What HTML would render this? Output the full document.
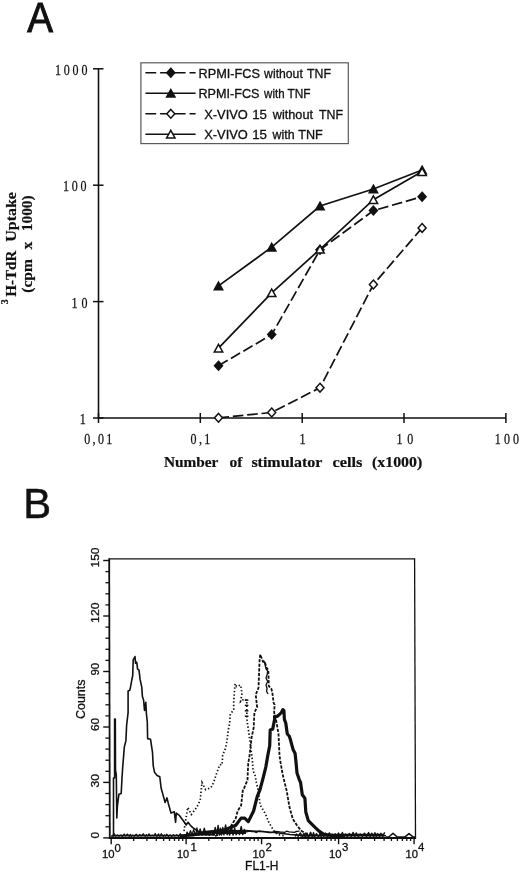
<!DOCTYPE html>
<html><head><meta charset="utf-8"><style>
html,body{margin:0;padding:0;background:#fff;width:520px;height:872px;overflow:hidden}
svg{display:block;will-change:transform}
.sans{font-family:"Liberation Sans",sans-serif;fill:#111;stroke:#111;stroke-width:0.3px}
.ser{font-family:"Liberation Serif",serif;fill:#111;stroke:#111;stroke-width:0.25px}
.serb{font-family:"Liberation Serif",serif;font-weight:bold;fill:#111;stroke:#111;stroke-width:0.2px}
</style></head><body>
<svg width="520" height="872" viewBox="0 0 520 872">
<rect width="520" height="872" fill="#fff"/>
<path d="M98.5 68.8 V418.0 H505.9" fill="none" stroke="#111" stroke-width="1.6"/>
<path d="M93.0 418.0 H103.5" stroke="#111" stroke-width="1.5"/>
<path d="M93.0 301.6 H103.5" stroke="#111" stroke-width="1.5"/>
<path d="M93.0 185.2 H103.5" stroke="#111" stroke-width="1.5"/>
<path d="M93.0 68.8 H103.5" stroke="#111" stroke-width="1.5"/>
<path d="M98.5 413.0 V423.0" stroke="#111" stroke-width="1.5"/>
<path d="M200.3 413.0 V423.0" stroke="#111" stroke-width="1.5"/>
<path d="M302.2 413.0 V423.0" stroke="#111" stroke-width="1.5"/>
<path d="M404.0 413.0 V423.0" stroke="#111" stroke-width="1.5"/>
<path d="M505.9 413.0 V423.0" stroke="#111" stroke-width="1.5"/>
<path d="M218.5 365.7 L271.7 334.6 L320.0 249.8 L373.4 210.6 L422.1 196.7" fill="none" stroke="#111" stroke-width="1.7" stroke-dasharray="10.6 3.8"/>
<path d="M218.5 417.8 L271.7 412.5 L320.0 387.7 L373.4 284.5 L422.1 227.9" fill="none" stroke="#111" stroke-width="1.7" stroke-dasharray="10.6 3.8"/>
<path d="M218.5 285.9 L271.7 247.2 L320.0 206.0 L373.4 189.0 L422.1 170.0" fill="none" stroke="#111" stroke-width="1.7"/>
<path d="M218.5 348.2 L271.7 292.8 L320.0 249.3 L373.4 199.7 L422.1 171.6" fill="none" stroke="#111" stroke-width="1.7"/>
<path d="M218.5 361.3 L222.5 365.7 L218.5 370.1 L214.5 365.7Z" fill="#111" stroke="#111" stroke-width="1.5" stroke-linejoin="miter"/>
<path d="M271.7 330.2 L275.7 334.6 L271.7 339.0 L267.7 334.6Z" fill="#111" stroke="#111" stroke-width="1.5" stroke-linejoin="miter"/>
<path d="M320.0 245.4 L324.0 249.8 L320.0 254.2 L316.0 249.8Z" fill="#111" stroke="#111" stroke-width="1.5" stroke-linejoin="miter"/>
<path d="M373.4 206.2 L377.4 210.6 L373.4 215.0 L369.4 210.6Z" fill="#111" stroke="#111" stroke-width="1.5" stroke-linejoin="miter"/>
<path d="M422.1 192.3 L426.1 196.7 L422.1 201.1 L418.1 196.7Z" fill="#111" stroke="#111" stroke-width="1.5" stroke-linejoin="miter"/>
<path d="M218.5 282.1 L222.7 289.7 L214.3 289.7Z" fill="#111" stroke="#111" stroke-width="1.5" stroke-linejoin="miter"/>
<path d="M271.7 243.4 L275.9 251.0 L267.5 251.0Z" fill="#111" stroke="#111" stroke-width="1.5" stroke-linejoin="miter"/>
<path d="M320.0 202.2 L324.2 209.8 L315.8 209.8Z" fill="#111" stroke="#111" stroke-width="1.5" stroke-linejoin="miter"/>
<path d="M373.4 185.2 L377.6 192.8 L369.2 192.8Z" fill="#111" stroke="#111" stroke-width="1.5" stroke-linejoin="miter"/>
<path d="M422.1 166.2 L426.3 173.8 L417.9 173.8Z" fill="#111" stroke="#111" stroke-width="1.5" stroke-linejoin="miter"/>
<path d="M218.5 413.4 L222.5 417.8 L218.5 422.2 L214.5 417.8Z" fill="#fff" stroke="#111" stroke-width="1.5" stroke-linejoin="miter"/>
<path d="M271.7 408.1 L275.7 412.5 L271.7 416.9 L267.7 412.5Z" fill="#fff" stroke="#111" stroke-width="1.5" stroke-linejoin="miter"/>
<path d="M320.0 383.3 L324.0 387.7 L320.0 392.1 L316.0 387.7Z" fill="#fff" stroke="#111" stroke-width="1.5" stroke-linejoin="miter"/>
<path d="M373.4 280.1 L377.4 284.5 L373.4 288.9 L369.4 284.5Z" fill="#fff" stroke="#111" stroke-width="1.5" stroke-linejoin="miter"/>
<path d="M422.1 223.5 L426.1 227.9 L422.1 232.3 L418.1 227.9Z" fill="#fff" stroke="#111" stroke-width="1.5" stroke-linejoin="miter"/>
<path d="M218.5 344.4 L222.7 352.0 L214.3 352.0Z" fill="#fff" stroke="#111" stroke-width="1.5" stroke-linejoin="miter"/>
<path d="M271.7 289.0 L275.9 296.6 L267.5 296.6Z" fill="#fff" stroke="#111" stroke-width="1.5" stroke-linejoin="miter"/>
<path d="M320.0 245.5 L324.2 253.1 L315.8 253.1Z" fill="#fff" stroke="#111" stroke-width="1.5" stroke-linejoin="miter"/>
<path d="M373.4 195.9 L377.6 203.5 L369.2 203.5Z" fill="#fff" stroke="#111" stroke-width="1.5" stroke-linejoin="miter"/>
<path d="M422.1 167.8 L426.3 175.4 L417.9 175.4Z" fill="#fff" stroke="#111" stroke-width="1.5" stroke-linejoin="miter"/>
<rect x="140.9" y="62.8" width="207.4" height="80.8" fill="#fff" stroke="#5a5a5a" stroke-width="1.2"/>
<path d="M145.4 72.7 H195.6" stroke="#111" stroke-width="1.5" stroke-dasharray="10.8 3.9"/>
<path d="M170.8 68.3 L174.8 72.7 L170.8 77.1 L166.8 72.7Z" fill="#111" stroke="#111" stroke-width="1.5" stroke-linejoin="miter"/>
<path d="M145.4 93.3 H195.6" stroke="#111" stroke-width="1.5"/>
<path d="M170.8 89.5 L175.0 97.1 L166.6 97.1Z" fill="#111" stroke="#111" stroke-width="1.5" stroke-linejoin="miter"/>
<path d="M145.4 113.8 H195.6" stroke="#111" stroke-width="1.5" stroke-dasharray="10.8 3.9"/>
<path d="M170.8 109.4 L174.8 113.8 L170.8 118.2 L166.8 113.8Z" fill="#fff" stroke="#111" stroke-width="1.5" stroke-linejoin="miter"/>
<path d="M145.4 134.2 H195.6" stroke="#111" stroke-width="1.5"/>
<path d="M170.8 130.4 L175.0 138.0 L166.6 138.0Z" fill="#fff" stroke="#111" stroke-width="1.5" stroke-linejoin="miter"/>
<text x="27.32" y="32.2" class="sans" font-size="43" textLength="25.76" lengthAdjust="spacingAndGlyphs" style="stroke-width:1.0px">A</text>
<text x="23.20" y="518.4" class="sans" font-size="42.5" textLength="27.90" lengthAdjust="spacingAndGlyphs" style="stroke-width:0.5px">B</text>
<text transform="scale(0.86,1)" x="63.84" y="74.8" class="ser" font-size="14.0" textLength="37.91" lengthAdjust="spacing">1000</text>
<text transform="scale(0.86,1)" x="73.26" y="191.1" class="ser" font-size="14.0" textLength="27.33" lengthAdjust="spacing">100</text>
<text transform="scale(0.86,1)" x="83.14" y="307.6" class="ser" font-size="14.0" textLength="18.49" lengthAdjust="spacing">10</text>
<text transform="scale(0.86,1)" x="92.67" y="424.2" class="ser" font-size="14.0">1</text>
<text transform="scale(0.86,1)" x="98.02" y="444.5" class="ser" font-size="14.0" textLength="32.56" lengthAdjust="spacing">0,01</text>
<text transform="scale(0.86,1)" x="221.63" y="444.2" class="ser" font-size="14.0" textLength="22.79" lengthAdjust="spacing">0,1</text>
<text transform="scale(0.86,1)" x="348.26" y="444.2" class="ser" font-size="14.0">1</text>
<text transform="scale(0.86,1)" x="461.05" y="444.2" class="ser" font-size="14.0" textLength="19.53" lengthAdjust="spacing">10</text>
<text transform="scale(0.86,1)" x="575.35" y="444.2" class="ser" font-size="14.0" textLength="28.26" lengthAdjust="spacing">100</text>
<text x="163.90" y="466.6" class="serb" font-size="14.0" textLength="54.50" lengthAdjust="spacingAndGlyphs">Number</text>
<text x="229.50" y="466.6" class="serb" font-size="14.0" textLength="12.90" lengthAdjust="spacingAndGlyphs">of</text>
<text x="251.40" y="466.6" class="serb" font-size="14.0" textLength="71.00" lengthAdjust="spacingAndGlyphs">stimulator</text>
<text x="332.50" y="466.6" class="serb" font-size="14.0" textLength="29.90" lengthAdjust="spacingAndGlyphs">cells</text>
<text x="372.00" y="466.6" class="serb" font-size="14.0" textLength="50.20" lengthAdjust="spacingAndGlyphs">(x1000)</text>
<text transform="translate(16.1,0) rotate(-90)" x="-296.70" y="0" class="serb" font-size="14.6" textLength="46.00" lengthAdjust="spacingAndGlyphs">H-TdR</text>
<text transform="translate(16.1,0) rotate(-90)" x="-241.70" y="0" class="serb" font-size="14.6" textLength="49.60" lengthAdjust="spacingAndGlyphs">Uptake</text>
<text transform="translate(32.3,0) rotate(-90)" x="-292.70" y="0" class="serb" font-size="14.6" textLength="33.50" lengthAdjust="spacingAndGlyphs">(cpm</text>
<text transform="translate(32.3,0) rotate(-90)" x="-249.40" y="0" class="serb" font-size="14.6" textLength="7.90" lengthAdjust="spacingAndGlyphs">x</text>
<text transform="translate(32.3,0) rotate(-90)" x="-231.30" y="0" class="serb" font-size="14.6" textLength="36.00" lengthAdjust="spacingAndGlyphs">1000)</text>
<text transform="translate(7.9,0) rotate(-90)" x="-304.16" y="0" class="serb" font-size="9.8">3</text>
<text x="198.50" y="78.2" class="sans" font-size="12.2" textLength="61.50" lengthAdjust="spacingAndGlyphs">RPMI-FCS</text>
<text x="264.10" y="78.2" class="sans" font-size="12.2" textLength="38.70" lengthAdjust="spacingAndGlyphs">without</text>
<text x="307.00" y="78.2" class="sans" font-size="12.2" textLength="23.90" lengthAdjust="spacingAndGlyphs">TNF</text>
<text x="198.50" y="98.4" class="sans" font-size="12.2" textLength="61.00" lengthAdjust="spacingAndGlyphs">RPMI-FCS</text>
<text x="264.10" y="98.4" class="sans" font-size="12.2" textLength="20.50" lengthAdjust="spacingAndGlyphs">with</text>
<text x="287.50" y="98.4" class="sans" font-size="12.2" textLength="23.10" lengthAdjust="spacingAndGlyphs">TNF</text>
<text x="204.20" y="119.3" class="sans" font-size="12.2" textLength="43.60" lengthAdjust="spacingAndGlyphs">X-VIVO</text>
<text x="252.20" y="119.3" class="sans" font-size="12.2" textLength="14.80" lengthAdjust="spacingAndGlyphs">15</text>
<text x="272.80" y="119.3" class="sans" font-size="12.2" textLength="40.20" lengthAdjust="spacingAndGlyphs">without</text>
<text x="319.00" y="119.3" class="sans" font-size="12.2" textLength="24.00" lengthAdjust="spacingAndGlyphs">TNF</text>
<text x="204.20" y="139.2" class="sans" font-size="12.2" textLength="43.60" lengthAdjust="spacingAndGlyphs">X-VIVO</text>
<text x="252.20" y="139.2" class="sans" font-size="12.2" textLength="14.80" lengthAdjust="spacingAndGlyphs">15</text>
<text x="272.50" y="139.2" class="sans" font-size="12.2" textLength="22.10" lengthAdjust="spacingAndGlyphs">with</text>
<text x="298.20" y="139.2" class="sans" font-size="12.2" textLength="24.50" lengthAdjust="spacingAndGlyphs">TNF</text>
<text transform="translate(98.9,0) rotate(-90)" x="-567.50" y="0" class="sans" font-size="11.8" textLength="20.04" lengthAdjust="spacingAndGlyphs">150</text>
<text transform="translate(98.9,0) rotate(-90)" x="-622.92" y="0" class="sans" font-size="11.8" textLength="20.46" lengthAdjust="spacingAndGlyphs">120</text>
<text transform="translate(98.9,0) rotate(-90)" x="-675.62" y="0" class="sans" font-size="11.8" textLength="12.66" lengthAdjust="spacingAndGlyphs">90</text>
<text transform="translate(98.9,0) rotate(-90)" x="-731.04" y="0" class="sans" font-size="11.8" textLength="13.08" lengthAdjust="spacingAndGlyphs">60</text>
<text transform="translate(98.9,0) rotate(-90)" x="-787.46" y="0" class="sans" font-size="11.8" textLength="13.50" lengthAdjust="spacingAndGlyphs">30</text>
<text transform="translate(98.9,0) rotate(-90)" x="-838.46" y="0" class="sans" font-size="11.8">0</text>
<text transform="translate(85.2,0) rotate(-90)" x="-719.00" y="0" class="sans" font-size="12.3" textLength="39.50" lengthAdjust="spacingAndGlyphs">Counts</text>
<text x="101.96" y="858.3" class="sans" font-size="11.4" textLength="12.58" lengthAdjust="spacingAndGlyphs">10</text>
<text x="114.50" y="851.6" class="sans" font-size="11.4">0</text>
<text x="177.00" y="858.2" class="sans" font-size="11.4" textLength="12.16" lengthAdjust="spacingAndGlyphs">10</text>
<text x="190.62" y="851.0" class="sans" font-size="11.4">1</text>
<text x="252.54" y="858.0" class="sans" font-size="11.4" textLength="12.50" lengthAdjust="spacingAndGlyphs">10</text>
<text x="265.54" y="851.2" class="sans" font-size="11.4">2</text>
<text x="328.96" y="857.7" class="sans" font-size="11.4" textLength="12.62" lengthAdjust="spacingAndGlyphs">10</text>
<text x="341.96" y="850.7" class="sans" font-size="11.4">3</text>
<text x="405.46" y="857.7" class="sans" font-size="11.4" textLength="12.50" lengthAdjust="spacingAndGlyphs">10</text>
<text x="418.00" y="850.7" class="sans" font-size="11.4">4</text>
<text x="245.08" y="870.0" class="sans" font-size="12.0" textLength="33.26" lengthAdjust="spacingAndGlyphs">FL1-H</text>
<path d="M109.2 558.9 H414.6" stroke="#111" stroke-width="1.25"/>
<path d="M414.6 558.3 L415.5 837.9" stroke="#111" stroke-width="1.3"/>
<path d="M109.2 558.3 L109.8 838.9" stroke="#111" stroke-width="1.8"/>
<path d="M108.9 837.9 H416.1" stroke="#111" stroke-width="2"/>
<path d="M103.2 837.9 H109.5" stroke="#111" stroke-width="1.4"/>
<path d="M105.4 826.8 H109.5" stroke="#111" stroke-width="1.3"/>
<path d="M105.4 815.7 H109.5" stroke="#111" stroke-width="1.3"/>
<path d="M105.4 804.6 H109.5" stroke="#111" stroke-width="1.3"/>
<path d="M105.4 793.5 H109.5" stroke="#111" stroke-width="1.3"/>
<path d="M103.2 782.4 H109.5" stroke="#111" stroke-width="1.4"/>
<path d="M105.4 771.3 H109.5" stroke="#111" stroke-width="1.3"/>
<path d="M105.4 760.2 H109.5" stroke="#111" stroke-width="1.3"/>
<path d="M105.4 749.1 H109.5" stroke="#111" stroke-width="1.3"/>
<path d="M105.4 738.1 H109.5" stroke="#111" stroke-width="1.3"/>
<path d="M103.2 727.0 H109.5" stroke="#111" stroke-width="1.4"/>
<path d="M105.4 715.9 H109.5" stroke="#111" stroke-width="1.3"/>
<path d="M105.4 704.8 H109.5" stroke="#111" stroke-width="1.3"/>
<path d="M105.4 693.7 H109.5" stroke="#111" stroke-width="1.3"/>
<path d="M105.4 682.6 H109.5" stroke="#111" stroke-width="1.3"/>
<path d="M103.2 671.5 H109.5" stroke="#111" stroke-width="1.4"/>
<path d="M105.4 660.4 H109.5" stroke="#111" stroke-width="1.3"/>
<path d="M105.4 649.3 H109.5" stroke="#111" stroke-width="1.3"/>
<path d="M105.4 638.2 H109.5" stroke="#111" stroke-width="1.3"/>
<path d="M105.4 627.1 H109.5" stroke="#111" stroke-width="1.3"/>
<path d="M103.2 616.0 H109.5" stroke="#111" stroke-width="1.4"/>
<path d="M105.4 604.9 H109.5" stroke="#111" stroke-width="1.3"/>
<path d="M105.4 593.8 H109.5" stroke="#111" stroke-width="1.3"/>
<path d="M105.4 582.7 H109.5" stroke="#111" stroke-width="1.3"/>
<path d="M105.4 571.6 H109.5" stroke="#111" stroke-width="1.3"/>
<path d="M103.2 560.5 H109.5" stroke="#111" stroke-width="1.4"/>
<path d="M111.2 837.9 V844.2" stroke="#111" stroke-width="1.4"/>
<path d="M133.7 837.9 V841" stroke="#111" stroke-width="1.3"/>
<path d="M146.9 837.9 V841" stroke="#111" stroke-width="1.3"/>
<path d="M156.3 837.9 V841" stroke="#111" stroke-width="1.3"/>
<path d="M163.6 837.9 V841" stroke="#111" stroke-width="1.3"/>
<path d="M169.5 837.9 V841" stroke="#111" stroke-width="1.3"/>
<path d="M174.5 837.9 V841" stroke="#111" stroke-width="1.3"/>
<path d="M178.8 837.9 V841" stroke="#111" stroke-width="1.3"/>
<path d="M182.7 837.9 V841" stroke="#111" stroke-width="1.3"/>
<path d="M186.1 837.9 V844.2" stroke="#111" stroke-width="1.4"/>
<path d="M208.8 837.9 V841" stroke="#111" stroke-width="1.3"/>
<path d="M222.1 837.9 V841" stroke="#111" stroke-width="1.3"/>
<path d="M231.6 837.9 V841" stroke="#111" stroke-width="1.3"/>
<path d="M238.9 837.9 V841" stroke="#111" stroke-width="1.3"/>
<path d="M244.9 837.9 V841" stroke="#111" stroke-width="1.3"/>
<path d="M249.9 837.9 V841" stroke="#111" stroke-width="1.3"/>
<path d="M254.3 837.9 V841" stroke="#111" stroke-width="1.3"/>
<path d="M258.1 837.9 V841" stroke="#111" stroke-width="1.3"/>
<path d="M261.6 837.9 V844.2" stroke="#111" stroke-width="1.4"/>
<path d="M284.8 837.9 V841" stroke="#111" stroke-width="1.3"/>
<path d="M298.3 837.9 V841" stroke="#111" stroke-width="1.3"/>
<path d="M308.0 837.9 V841" stroke="#111" stroke-width="1.3"/>
<path d="M315.4 837.9 V841" stroke="#111" stroke-width="1.3"/>
<path d="M321.5 837.9 V841" stroke="#111" stroke-width="1.3"/>
<path d="M326.7 837.9 V841" stroke="#111" stroke-width="1.3"/>
<path d="M331.1 837.9 V841" stroke="#111" stroke-width="1.3"/>
<path d="M335.1 837.9 V841" stroke="#111" stroke-width="1.3"/>
<path d="M338.6 837.9 V844.2" stroke="#111" stroke-width="1.4"/>
<path d="M361.3 837.9 V841" stroke="#111" stroke-width="1.3"/>
<path d="M374.6 837.9 V841" stroke="#111" stroke-width="1.3"/>
<path d="M384.1 837.9 V841" stroke="#111" stroke-width="1.3"/>
<path d="M391.4 837.9 V841" stroke="#111" stroke-width="1.3"/>
<path d="M397.4 837.9 V841" stroke="#111" stroke-width="1.3"/>
<path d="M402.4 837.9 V841" stroke="#111" stroke-width="1.3"/>
<path d="M406.8 837.9 V841" stroke="#111" stroke-width="1.3"/>
<path d="M410.6 837.9 V841" stroke="#111" stroke-width="1.3"/>
<path d="M414.1 837.9 V844.2" stroke="#111" stroke-width="1.4"/>
<path d="M111.0 836.0 L113.5 836.0 L113.5 778.0 L114.6 778.0 L114.6 719.0 L115.3 719.0 L115.5 770.0 L116.3 775.0 L116.8 818.0 L117.4 805.9 L118.9 794.3 L121.2 793.5 L122.0 778.0 L122.8 765.7 L123.6 756.4 L124.3 747.1 L125.9 740.9 L126.6 725.5 L128.1 712.7 L128.1 690.9 L129.8 690.3 L130.9 685.1 L132.1 678.3 L132.7 676.0 L133.2 659.9 L135.0 656.5 L135.5 663.3 L136.7 662.2 L137.6 669.1 L139.0 670.2 L140.1 679.4 L141.8 687.4 L142.4 696.6 L143.6 700.0 L144.5 710.4 L145.8 702.3 L146.4 713.8 L147.3 722.0 L147.6 738.6 L150.5 739.2 L152.5 752.4 L153.2 765.6 L154.5 772.2 L157.1 775.5 L159.8 776.8 L161.1 788.0 L164.4 799.9 L165.1 802.5 L167.0 797.9 L168.4 803.8 L171.0 813.1 L174.3 811.8 L175.6 822.3 L176.3 813.1 L179.6 815.7 L183.5 821.0 L186.2 825.0 L188.1 822.3 L190.1 825.0 L192.7 827.6 L200.0 832.5 L215.0 831.5 L230.0 832.5 L245.0 830.5 L260.0 831.5 L275.0 832.5 L290.0 834.5 L310.0 836.0" fill="none" stroke="#111" stroke-width="1.6" stroke-linejoin="round"/>
<path d="M184.0 831.0 L186.0 818.1 L187.8 807.4 L191.3 814.5 L196.7 807.4 L200.2 800.3 L202.0 782.5 L205.6 789.6 L210.9 787.8 L213.6 782.5 L217.1 771.8 L219.8 764.7 L222.1 764.8 L222.7 755.2 L225.5 748.4 L226.9 741.5 L228.2 730.5 L229.6 723.6 L230.3 714.0 L233.7 709.9 L233.7 701.6 L235.1 683.7 L236.5 686.5 L240.6 685.1 L242.0 693.4 L240.6 701.6 L244.1 698.9 L246.8 700.2 L246.8 716.7 L247.5 723.6 L248.9 733.2 L252.3 759.3 L253.0 770.3 L255.1 775.8 L256.4 782.7 L257.8 788.2 L260.2 805.1 L265.3 813.7 L268.8 822.3 L273.9 830.9 L277.4 834.4 L285.0 836.0" fill="none" stroke="#111" stroke-width="1.7" stroke-dasharray="1.4 2.1"/>
<path d="M244.8 700.2 H248.4" stroke="#111" stroke-width="1.5"/>
<path d="M244.8 705.4 H248.4" stroke="#111" stroke-width="1.5"/>
<path d="M244.8 710.8 H248.4" stroke="#111" stroke-width="1.5"/>
<path d="M244.8 716.2 H248.4" stroke="#111" stroke-width="1.5"/>
<path d="M215.0 836.0 L225.0 832.0 L230.5 827.0 L235.8 818.1 L237.6 811.0 L241.1 805.6 L242.9 789.6 L244.1 788.2 L247.5 780.0 L248.2 763.5 L249.6 755.2 L251.6 737.4 L253.7 727.7 L254.4 712.6 L257.1 707.1 L255.7 694.7 L258.5 687.9 L259.2 670.0 L259.6 660.0 L260.2 654.4 L263.1 661.9 L264.8 661.9 L266.5 667.7 L268.3 670.0 L268.8 686.2 L271.2 688.5 L272.3 692.0 L273.6 702.8 L274.6 704.7 L274.1 712.5 L275.6 717.4 L277.5 728.1 L278.5 734.0 L279.5 755.4 L280.5 762.2 L282.4 773.0 L283.4 777.6 L286.8 791.3 L289.4 806.8 L292.8 818.9 L297.2 825.8 L301.5 830.9 L306.6 834.4 L315.0 836.0" fill="none" stroke="#111" stroke-width="1.8" stroke-dasharray="3.2 1.4"/>
<path d="M263.5 660.5 L264.5 662.0 L266.0 668.8 L267.7 671.2 L267.1 674.6 L266.0 678.0 L267.7 681.5 L266.0 685.0 L267.1 688.5 L266.5 691.0 L268.0 694.0" fill="none" stroke="#111" stroke-width="1.3" stroke-linejoin="round"/>
<path d="M180.0 836.0 L193.1 835.0 L205.6 832.3 L223.4 830.5 L235.8 825.2 L241.1 818.1 L244.7 818.1 L248.3 821.6 L253.6 811.0 L257.2 796.7 L260.0 789.6 L262.9 778.8 L265.8 767.1 L267.8 755.4 L269.7 745.7 L270.2 730.1 L272.7 729.1 L274.6 719.4 L274.6 716.4 L277.1 716.4 L279.5 714.5 L281.4 712.5 L282.9 709.6 L283.9 710.6 L284.4 719.4 L285.8 723.3 L287.3 734.0 L289.2 736.0 L290.2 738.9 L293.1 749.6 L295.1 753.5 L296.1 763.2 L297.0 773.0 L299.0 778.8 L300.6 782.7 L302.3 794.8 L304.9 798.2 L305.8 812.0 L308.3 820.6 L313.5 825.8 L318.7 830.9 L323.8 834.4 L335.0 835.8 L345.0 835.8" fill="none" stroke="#111" stroke-width="3.2" stroke-linejoin="round"/>
<path d="M112.5 836.4 L114.2 833.5 L115.7 836.3 L117.4 834.8 L119.0 836.3 L121.0 834.9 L122.4 836.6 L124.3 833.9 L125.4 836.1 L127.5 834.0 L129.3 836.5 L130.3 834.2 L131.4 836.5 L132.7 835.0 L134.2 836.4 L136.2 834.2 L138.0 836.4 L139.8 834.3 L141.1 836.1 L143.3 833.7 L145.2 836.4 L146.4 834.6 L147.5 836.2 L149.0 833.7 L150.5 836.1 L152.5 835.1 L153.7 836.1 L155.3 833.4 L156.8 836.6 L158.5 833.8 L159.9 836.6 L161.3 833.5 L163.2 836.5 L164.5 834.9 L165.5 836.2 L166.8 834.1 L168.3 836.5 L170.2 834.9 L171.9 836.5 L173.4 834.7 L174.8 836.1 L176.7 834.6 L178.8 836.5 L180.3 833.6 L182.0 836.5 L184.2 834.7 L185.5 836.2" fill="none" stroke="#111" stroke-width="1.1" stroke-linejoin="round"/>
<path d="M112.5 835.6 H186" stroke="#111" stroke-width="1.8"/>
<path d="M186.0 835.4 L187.1 832.0 L188.8 835.4 L190.5 830.6 L192.1 835.0 L193.6 829.6 L195.7 835.4 L196.9 828.0 L198.8 835.4 L200.1 828.8 L202.2 835.4 L204.3 828.1 L206.1 835.3 L207.2 832.3 L209.3 835.4 L211.2 831.2 L213.2 835.2 L214.5 831.6" fill="none" stroke="#111" stroke-width="1.3" stroke-linejoin="round"/>
<path d="M186 834.5 H215" stroke="#111" stroke-width="2.2"/>
<path d="M214.0 835.0 L215.2 827.6 L216.9 834.7 L218.1 825.5 L219.3 835.0 L220.5 828.3 L221.5 834.9 L222.8 827.6 L223.9 834.8 L225.6 825.1 L227.2 834.7 L228.6 830.2 L229.6 835.0 L231.4 826.8 L233.1 835.0 L234.7 828.1 L236.2 834.8 L238.0 830.5 L239.5 834.6 L241.2 826.6 L242.8 834.6 L244.5 828.9" fill="none" stroke="#111" stroke-width="1.5" stroke-linejoin="round"/>
<path d="M214 832 H246" stroke="#111" stroke-width="4"/>
<path d="M244.0 831.2 L246.8 831.9 L249.5 831.2 L251.9 831.6 L253.9 831.7 L256.3 832.5 L258.8 831.0 L261.6 831.4 L263.7 831.4 L266.1 831.9 L268.8 832.5 L271.5 832.6 L273.9 831.8 L275.7 831.5 L277.9 831.6 L280.8 832.2 L282.3 832.1 L284.9 832.3 L286.6 831.2 L289.1 831.9 L291.9 832.1 L294.4 832.3 L296.6 831.3 L299.5 831.2" fill="none" stroke="#111" stroke-width="1.3" stroke-linejoin="round"/>
<path d="M295.0 836.5 L296.5 834.0 L298.2 836.4 L300.3 832.9 L302.4 836.7 L303.8 833.4 L305.3 836.7 L306.9 833.0 L308.6 836.6 L310.6 832.3 L312.3 836.8 L313.5 832.6 L314.7 836.4 L316.5 833.7 L318.5 836.8 L319.8 833.4 L321.1 836.4 L322.5 834.0 L323.7 836.5 L325.4 833.0 L327.2 836.4 L329.4 832.9 L330.8 836.6 L332.2 834.3 L333.8 836.4 L335.2 833.8 L336.8 836.5 L338.5 833.1 L340.4 836.6 L342.4 832.5 L343.7 836.3 L345.6 834.0 L347.3 836.5 L349.4 833.5 L351.2 836.4 L353.2 832.4 L354.8 836.5 L356.2 832.9 L358.3 836.5 L360.2 833.9 L362.3 836.3 L364.5 833.2 L366.5 836.6 L368.6 832.6 L370.1 836.8 L371.7 833.2 L373.7 836.6 L374.9 832.7 L376.2 836.4 L377.6 833.6 L379.6 836.7 L380.9 833.3 L382.8 836.4 L384.7 832.4" fill="none" stroke="#111" stroke-width="1.4" stroke-linejoin="round"/>
<path d="M300 835.8 H386" stroke="#111" stroke-width="1.6"/>
<path d="M330 834.8 H384" stroke="#111" stroke-width="2.2"/>
<path d="M386.0 837.0 L389.0 836.8 L393.0 833.4 L397.0 836.8 L405.0 836.9 L409.0 833.6 L413.0 836.9 L415.0 837.0" fill="none" stroke="#111" stroke-width="1.5" stroke-linejoin="round"/>
</svg>
</body></html>
